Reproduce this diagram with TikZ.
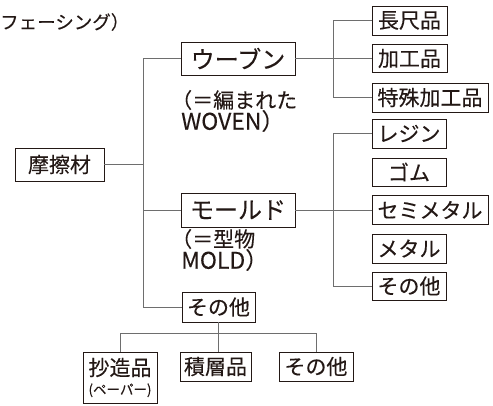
\documentclass[tikz,border=0pt]{standalone}
\usepackage{fontspec}
\setmainfont{Noto Sans CJK JP}[FakeBold=0.2]
\definecolor{txt}{HTML}{231815}
\definecolor{ln}{HTML}{6E6E6E}
\begin{document}
\begin{tikzpicture}[x=1pt,y=-1pt,
  bx/.style={draw=txt,line width=0.9pt,inner sep=0pt,text=txt,font=\fontsize{21}{24}\selectfont},
  big/.style={bx,font=\fontsize{24}{28}\selectfont},
  ann/.style={anchor=west,inner sep=0pt,text=txt,font=\fontsize{21}{23}\selectfont},
  annl/.style={ann,font=\fontsize{23}{25}\selectfont},
  conn/.style={draw=ln,line width=1pt}]
\useasboundingbox (0,0) rectangle (493,405);
\node[anchor=west,inner sep=0pt,text=txt,font=\fontsize{18.5}{20}\selectfont] (title) at (0,22) {フェーシング）};
\node[bx,minimum width=89pt,minimum height=33pt] (fric) at (59.5,164.5) {摩擦材};
\node[big,minimum width=114pt,minimum height=33pt] (woven) at (238,58.5) {ウーブン};
\node[big,minimum width=114pt,minimum height=34pt] (mold) at (238,210) {モールド};
\node[ann] (wa) at (171,100) {（＝編まれた};
\node[annl] (wb) at (181,121) {WOVEN）};
\node[ann] (ma) at (171,239) {（＝型物};
\node[annl] (mb) at (181,260) {MOLD）};
\node[bx,minimum width=75pt,minimum height=29pt] (chou) at (409.5,20.5) {長尺品};
\node[bx,minimum width=75pt,minimum height=28pt] (kako) at (409.5,58.5) {加工品};
\node[bx,minimum width=116pt,minimum height=29pt] (toku) at (430,97.5) {特殊加工品};
\node[bx,minimum width=74pt,minimum height=29pt] (resin) at (409,133.5) {レジン};
\node[bx,minimum width=74pt,minimum height=28pt] (gomu) at (409,172) {ゴム};
\node[bx,minimum width=116pt,minimum height=29pt] (semi) at (430,210) {セミメタル};
\node[bx,minimum width=74pt,minimum height=29pt] (metal) at (409,248.5) {メタル};
\node[bx,minimum width=74pt,minimum height=28pt] (oth1) at (409,286) {その他};
\node[bx,minimum width=73pt,minimum height=30pt] (othm) at (218.5,307) {その他};
\node[bx,minimum width=74pt,minimum height=51pt,align=center] (paper) at (120,377.5) {抄造品\\[-5pt]{\fontsize{13.5}{15}\selectfont (ペーパー)}};
\node[bx,minimum width=71pt,minimum height=29pt] (seki) at (215.5,366.5) {積層品};
\node[bx,minimum width=74pt,minimum height=29pt] (oth2) at (316,366.5) {その他};
\coordinate (bL) at (143,0);
\coordinate (bR) at (333,0);
\coordinate (bB) at (0,333);
\draw[conn] (woven.west) -- (woven.west -| bL) |- (othm.west);
\draw[conn] (fric.east) -- (fric.east -| bL);
\draw[conn] (mold.west) -- (mold.west -| bL);
\draw[conn] (woven.east) -- (kako.west);
\draw[conn] (chou.west) -- (chou.west -| bR) |- (toku.west);
\draw[conn] (mold.east) -- (semi.west);
\draw[conn] (resin.west) -- (resin.west -| bR) |- (oth1.west);
\draw[conn] (othm.south) -- (othm.south |- seki.north);
\draw[conn] (paper.north) -- (paper.north |- bB) -| (oth2.north);
\end{tikzpicture}
\end{document}
